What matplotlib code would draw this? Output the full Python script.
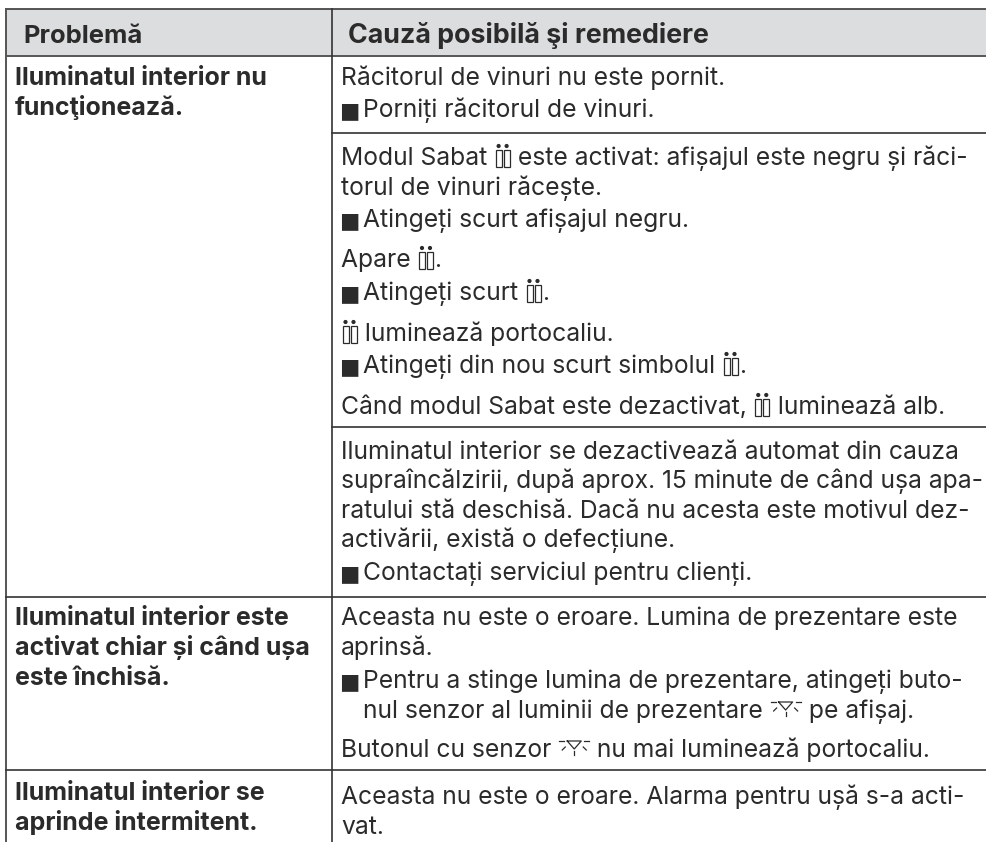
import matplotlib
matplotlib.use("Agg")
import matplotlib.pyplot as plt
from matplotlib.patches import Rectangle, Circle

# {C} = candle icon, {L} = light icon, both drawn inline, "# " = bullet
header_left = "Problemă"
header_right = "Cauză posibilă şi remediere"

left_lines = [
    ("Iluminatul interior nu", 85),
    ("funcţionează.", 115),
    ("Iluminatul interior este", 625),
    ("activat chiar și când ușa", 655),
    ("este închisă.", 685),
    ("Iluminatul interior se", 800),
    ("aprinde intermitent.", 830),
]

right_lines = [
    ("Răcitorul de vinuri nu este pornit.", 85),
    ("# Porniți răcitorul de vinuri.", 117),
    ("Modul Sabat {C} este activat: afișajul este negru și răci-", 165),
    ("torul de vinuri răcește.", 195),
    ("# Atingeți scurt afișajul negru.", 227),
    ("Apare {C}.", 267),
    ("# Atingeți scurt {C}.", 300),
    ("{C} luminează portocaliu.", 341),
    ("# Atingeți din nou scurt simbolul {C}.", 373),
    ("Când modul Sabat este dezactivat, {C} luminează alb.", 414),
    ("Iluminatul interior se dezactivează automat din cauza", 459),
    ("supraîncălzirii, după aprox. 15 minute de când ușa apa-", 488),
    ("ratului stă deschisă. Dacă nu acesta este motivul dez-", 518),
    ("activării, există o defecțiune.", 547),
    ("# Contactați serviciul pentru clienți.", 580),
    ("Aceasta nu este o eroare. Lumina de prezentare este", 625),
    ("aprinsă.", 655),
    ("# Pentru a stinge lumina de prezentare, atingeți buto-", 688),
    ("  nul senzor al luminii de prezentare {L} pe afișaj.", 718),
    ("Butonul cu senzor {L} nu mai luminează portocaliu.", 757),
    ("Aceasta nu este o eroare. Alarma pentru ușă s-a acti-", 804),
    ("vat.", 834),
]

row_rules = [597, 770]
right_rules = [133, 427]

INK = "#2b2b2b"
FONT = "Inter"
SIZE = 17.75
SIZE_BOLD = 18.0
SIZE_HEAD = 19.3
SIZE_HEAD_LEFT = 18.4

fig = plt.figure(figsize=(9.87, 8.42), dpi=100)
ax = fig.add_axes([0, 0, 1, 1])
ax.set_xlim(0, 987)
ax.set_ylim(842, 0)
ax.axis("off")
renderer = fig.canvas.get_renderer()


def draw_candle(x, base):
    for cx in (x + 3.5, x + 11.5):
        ax.add_patch(Rectangle((cx - 3, base - 15), 6, 17, fc="none", ec=INK, lw=0.9))
        ax.add_patch(Circle((cx, base - 19), 2.1, fc=INK, ec="none"))
    return 15


def draw_light(x, base):
    ax.plot([x + 8, x + 22, x + 15, x + 8], [base - 16, base - 16, base - 8, base - 16], color=INK, lw=0.9)
    ax.plot([x, x + 5], [base - 16, base - 16], color=INK, lw=0.9)
    ax.plot([x + 25, x + 30], [base - 16, base - 16], color=INK, lw=0.9)
    ax.plot([x + 3, x + 6], [base - 7, base - 10], color=INK, lw=0.9)
    ax.plot([x + 27, x + 24], [base - 7, base - 10], color=INK, lw=0.9)
    ax.plot([x + 15, x + 15], [base - 6, base - 2], color=INK, lw=0.9)
    return 30


def put(x, y, s, weight="normal", size=SIZE):
    ax.text(x, y, s, fontsize=size, fontweight=weight, family=FONT, color=INK,
            va="baseline", ha="left")


def run_width(s):
    # window extent drops trailing spaces, so measure with a dot added
    probe = ax.text(0, 0, s + ".", fontsize=SIZE, family=FONT)
    w_full = probe.get_window_extent(renderer).width
    probe.set_text(".")
    w_dot = probe.get_window_extent(renderer).width
    probe.remove()
    return w_full - w_dot


def put_line(x, y, line):
    if line.startswith("# "):
        ax.text(x - 1.5, y, "■", fontsize=15.5, family="DejaVu Sans", color=INK, va="baseline")
        x += 22
        line = line[2:]
    if line.startswith("  "):
        x += 22
        line = line[2:]
    parts = line.replace("{C}", "\0C\0").replace("{L}", "\0L\0").split("\0")
    for p in parts:
        if p == "C":
            x += draw_candle(x + 1, y) + 2
        elif p == "L":
            x += draw_light(x + 1, y) + 2
        elif p:
            put(x, y, p)
            x += run_width(p)


# header band and table rules
ax.add_patch(Rectangle((6, 9), 981, 46, fc="#dcddde", ec="none"))
ax.plot([6, 987], [9, 9], color="#3a3a3a", lw=1.2)
ax.plot([6, 987], [55.5, 55.5], color="#3a3a3a", lw=1.2)
ax.plot([6, 6], [9, 842], color="#555555", lw=1.4)
ax.plot([331.5, 331.5], [9, 842], color="#333333", lw=1.2)
for y in row_rules:
    ax.plot([6, 987], [y, y], color="#333333", lw=1.2)
for y in right_rules:
    ax.plot([331.5, 987], [y, y], color="#333333", lw=1.2)

put(23, 43, header_left, "bold", SIZE_HEAD_LEFT)
put(348, 43, header_right, "bold", SIZE_HEAD)
for s, y in left_lines:
    put(15, y, s, "bold", SIZE_BOLD)
for s, y in right_lines:
    put_line(341, y, s)

fig.savefig("out.png", dpi=100)
